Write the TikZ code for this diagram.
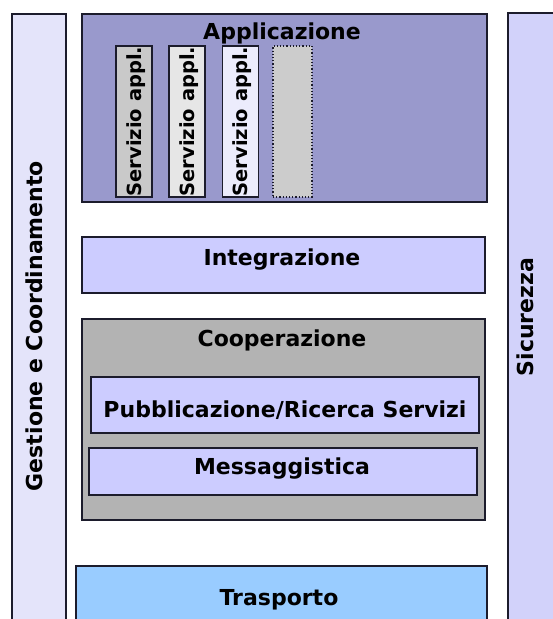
\documentclass[tikz,border=0pt]{standalone}
\usepackage{fontspec}
\setmainfont{DejaVu Sans}
\usepackage{xcolor}
\usetikzlibrary{shapes, positioning}

\definecolor{edgecol}{HTML}{1C1C2C}
\definecolor{appfill}{HTML}{9999CC}
\definecolor{layerfill}{HTML}{CCCCFF}
\definecolor{coopfill}{HTML}{B3B3B3}
\definecolor{trasfill}{HTML}{99CCFF}
\definecolor{leftbar}{HTML}{E4E4FA}
\definecolor{rightbar}{HTML}{D2D2FA}
\definecolor{srvA}{HTML}{C9C9C9}
\definecolor{srvB}{HTML}{E6E6E6}
\definecolor{srvC}{HTML}{ECECFC}
\definecolor{srvD}{HTML}{CCCCCC}

\begin{document}
\begin{tikzpicture}[
    x=1pt, y=-1pt,
    box/.style={rectangle, draw=edgecol, line width=1.5pt, inner sep=0pt},
    service/.style={box, minimum width=36pt, minimum height=151pt},
    title/.style={font=\fontsize{22}{26}\selectfont\bfseries, text=black, anchor=base, inner sep=0pt},
    srvtext/.style={font=\fontsize{19.5}{23}\selectfont\bfseries, text=black, rotate=90, anchor=base, inner sep=0pt}
    ]

    \clip (0,0) rectangle (553,619);
    \fill[white] (0,0) rectangle (553,619);

    % Side bars
    \node (gestione) [box, fill=leftbar, minimum width=54pt, minimum height=646pt] at (39,337) {};
    \node (sicurezza) [box, fill=rightbar, minimum width=92pt, minimum height=647pt] at (554,336.5) {};
    \node (gestionetxt) [title, rotate=90] at (42,326) {Gestione e Coordinamento};
    \node (sicurezzatxt) [title, rotate=90] at (533,317) {Sicurezza};

    % Application layer
    \node (app) [box, fill=appfill, minimum width=405pt, minimum height=188pt] at (284.5,108) {};
    \node (apptxt) [title] at (282,39) {Applicazione};
    \foreach \i/\x/\c in {1/134/srvA, 2/187/srvB, 3/240.5/srvC} {
        \node (srv\i) [service, fill=\c] at (\x,121.5) {};
        \node (srvtxt\i) [srvtext] at (\x+7,121.5) {Servizio appl.};
    }
    \node (srv4) [service, fill=srvD, line width=1.2pt, dotted, minimum width=39pt] at (292.5,121.5) {};

    % Integration layer
    \node (integr) [box, fill=layerfill, minimum width=403pt, minimum height=56pt] at (283.5,265) {};
    \node (integrtxt) [title] at (282,265) {Integrazione};

    % Cooperation layer
    \node (coop) [box, fill=coopfill, minimum width=403pt, minimum height=201pt] at (283.5,419.5) {};
    \node (cooptxt) [title] at (282,346) {Cooperazione};
    \node (pubbl) [box, fill=layerfill, minimum width=388pt, minimum height=56pt] at (285,405) {};
    \node (pubbltxt) [title] at (285,417) {Pubblicazione/Ricerca Servizi};
    \node (messag) [box, fill=layerfill, minimum width=388pt, minimum height=47pt] at (283,471.5) {};
    \node (messagtxt) [title] at (282,474) {Messaggistica};

    % Transport layer
    \node (trasp) [box, fill=trasfill, minimum width=411pt, minimum height=94pt] at (281.5,613) {};
    \node (trasptxt) [title] at (279,605) {Trasporto};
\end{tikzpicture}
\end{document}
